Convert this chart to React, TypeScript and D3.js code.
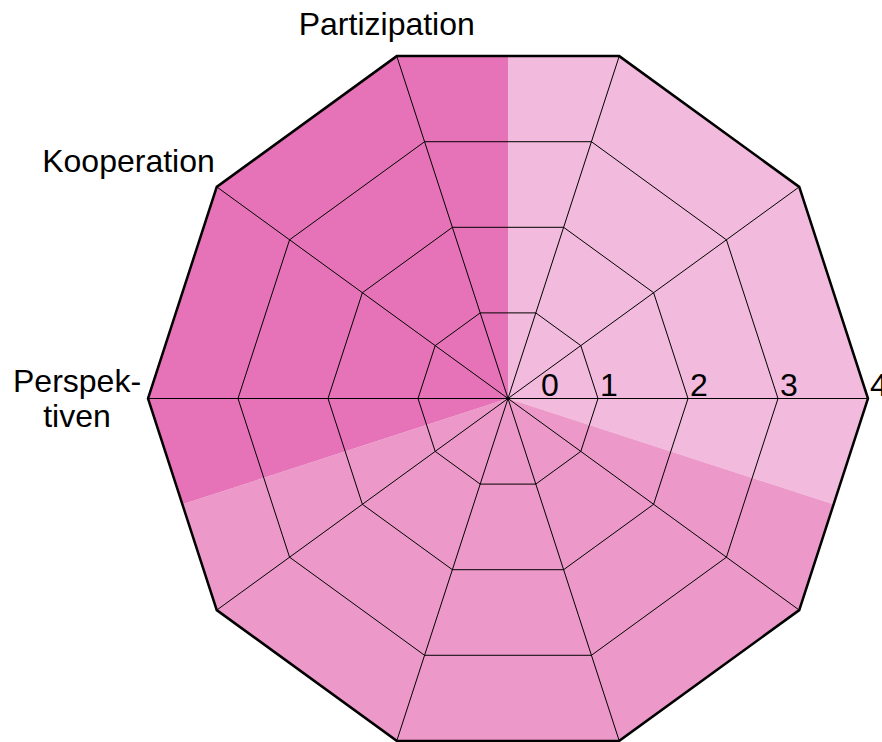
import React from "react";
import * as d3 from "d3";

// scale values on the rings
const ringTicks = [0, 1, 2, 3, 4];
// ten spokes of the decagon
const spokeCount = 10;
// background groups (share of the circle, clockwise from the top)
const groupNames = ["light", "medium", "dark"];
const groupShares = [3, 4, 3];
// axis labels and the vertex (counted anticlockwise from the right) they sit at
const labelNames = ["Partizipation", "Kooperation", "Perspek-|tiven"];
const labelVertices = [3, 4, 5];

const palette: Record<string, string> = {
  light: "#f2badc",
  medium: "#ec99c9",
  dark: "#e673b8",
};

const width = 882;
const height = 742;
const cx = 508;
const cy = 398.5;
const R = 360;
const font = "'Liberation Sans', Arial, sans-serif";

// d3 radial angle (clockwise from top) for vertex k
const vertexAngle = (k: number) => Math.PI / 2 - (k * 2 * Math.PI) / spokeCount;

const App = () => {
  const r = d3.scaleLinear().domain([0, d3.max(ringTicks) as number]).range([0, R]);
  const vertices = d3.range(spokeCount);

  const ring = d3
    .lineRadial<number>()
    .angle((k) => vertexAngle(k))
    .radius(0)
    .curve(d3.curveLinearClosed);

  const ringPath = (v: number) => ring.radius(r(v))(vertices) as string;

  const pie = d3
    .pie<number>()
    .sort(null)
    .value((d) => d)(groupShares);
  const arc = d3
    .arc<d3.PieArcDatum<number>>()
    .innerRadius(0)
    .outerRadius(R * 1.1);

  const polar = (k: number, rad: number) => {
    const a = vertexAngle(k);
    return { x: rad * Math.sin(a), y: -rad * Math.cos(a) };
  };

  // placement of the three axis labels relative to their vertex
  const place = (i: number) => {
    const p = polar(labelVertices[i], r(4));
    if (i === 0) return { x: p.x - 10, y: p.y - 21, anchor: "middle" };
    if (i === 1) return { x: p.x - 2, y: p.y - 15, anchor: "end" };
    return { x: p.x - 71, y: p.y - 6.5, anchor: "middle" };
  };

  return (
    <svg
      width={width}
      height={height}
      style={{ position: "absolute", left: 0, top: 0, background: "#fff" }}
      fontFamily={font}
    >
      <defs>
        <clipPath id="deca">
          <path d={ringPath(4)} />
        </clipPath>
      </defs>
      <g transform={`translate(${cx},${cy})`}>
        <g clipPath="url(#deca)">
          {pie.map((s, i) => (
            <path key={groupNames[i]} d={arc(s) as string} fill={palette[groupNames[i]]} />
          ))}
        </g>
        {ringTicks
          .filter((v) => v > 0 && v < 4)
          .map((v) => (
            <path key={v} d={ringPath(v)} fill="none" stroke="#000" strokeWidth={1} />
          ))}
        {vertices.map((k) => {
          const p = polar(k, r(4));
          return <line key={k} x1={0} y1={0} x2={p.x} y2={p.y} stroke="#000" strokeWidth={1} />;
        })}
        <path d={ringPath(4)} fill="none" stroke="#000" strokeWidth={2.5} strokeLinejoin="miter" />
        {ringTicks.map((v) => (
          <text key={v} x={r(v) + (v === 0 ? 33 : 2)} y={-2.5} fontSize={32} fill="#000">
            {v}
          </text>
        ))}
        {labelNames.map((name, i) => {
          const pl = place(i);
          const lines = name.split("|");
          return (
            <text key={name} x={pl.x} y={pl.y} fontSize={32} textAnchor={pl.anchor} fill="#000">
              {lines.map((ln, j) => (
                <tspan key={j} x={pl.x} dy={j === 0 ? 0 : 35}>
                  {ln}
                </tspan>
              ))}
            </text>
          );
        })}
      </g>
    </svg>
  );
};

export default App;
